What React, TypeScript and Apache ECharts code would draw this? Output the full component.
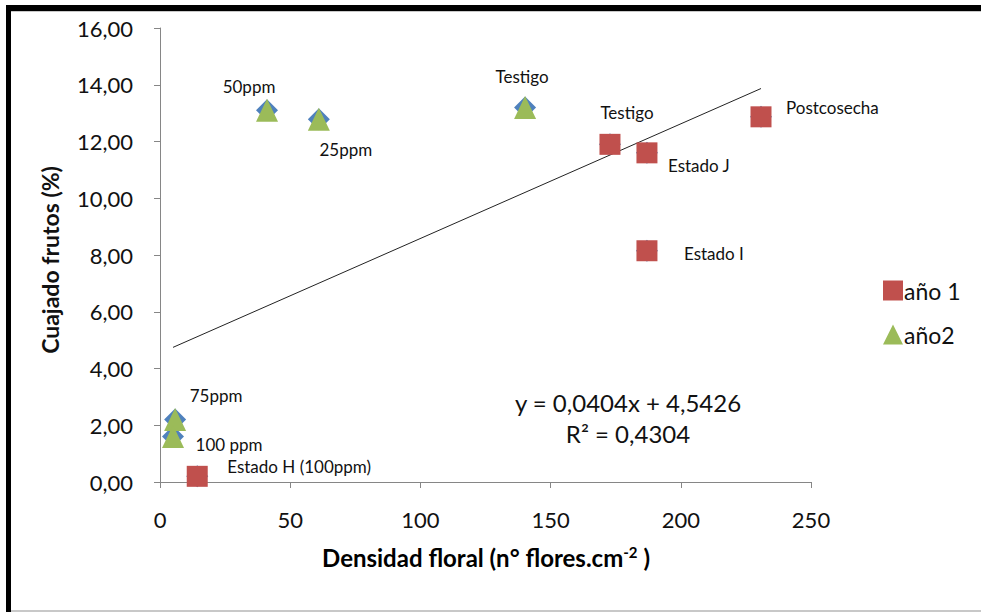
import React, { useEffect, useRef } from "react";
import * as echarts from "echarts";

// ---- data ----
const ano1Names = ["Estado H (100ppm)", "Testigo", "Estado J", "Estado I", "Postcosecha"];
const ano1X = [14.3, 172.8, 187, 187, 230.8];
const ano1Y = [0.2, 11.9, 11.6, 8.15, 12.87];

const ano2Names = ["50ppm", "25ppm", "Testigo", "75ppm", "100 ppm"];
const ano2X = [41.1, 61, 140.2, 5.8, 5];
const ano2Y = [13.1, 12.78, 13.2, 2.2, 1.6];

const seriesNames = ["año 1", "año2"];
const slope = 0.0404;
const intercept = 4.5426;
const eqText = "y = 0,0404x + 4,5426";
const r2Text = "R² = 0,4304";
const yTicks = [0, 2, 4, 6, 8, 10, 12, 14, 16];
const xTicks = [0, 50, 100, 150, 200, 250];

// label placement (style only)
const labelStyle1 = [
  { offset: [30, -10], align: "left" },
  { offset: [17, -32], align: "center" },
  { offset: [21, 13], align: "left" },
  { offset: [37, 3], align: "left" },
  { offset: [25, -9], align: "left" },
];
const labelStyle2 = [
  { offset: [-18, -24], align: "center" },
  { offset: [27, 30], align: "center" },
  { offset: [-3, -31], align: "center" },
  { offset: [41, -24], align: "center" },
  { offset: [56, 8], align: "center" },
];

const FONT = "Lato, 'Open Sans', sans-serif";

export default function App() {
  const ref = useRef<HTMLDivElement>(null);
  useEffect(() => {
    if (!ref.current) return;
    const chart = echarts.init(ref.current, undefined, { renderer: "svg" });
    const allX = [...ano1X, ...ano2X];
    const allY = [...ano1Y, ...ano2Y];
    const xMin = Math.min(...allX);
    const xMax = Math.max(...allX);
    const mkLabel = (name: string, s: any) => ({
      show: true,
      formatter: name,
      position: "inside",
      offset: s.offset,
      align: s.align,
      verticalAlign: "middle",
      fontSize: 17,
      fontFamily: FONT,
      color: "#111",
    });
    const option: any = {
      animation: false,
      backgroundColor: "#fff",
      textStyle: { fontFamily: FONT },
      grid: { left: 160, right: 170, top: 28, bottom: 130, containLabel: false },
      xAxis: {
        type: "value",
        min: xTicks[0],
        max: xTicks[xTicks.length - 1],
        interval: 50,
        axisLine: { show: true, lineStyle: { color: "#868686", width: 1 } },
        axisTick: { show: true, length: 6, lineStyle: { color: "#868686" } },
        splitLine: { show: false },
        axisLabel: { fontSize: 22, color: "#111", margin: 26, fontFamily: FONT },
      },
      yAxis: {
        type: "value",
        min: yTicks[0],
        max: yTicks[yTicks.length - 1],
        interval: 2,
        axisLine: { show: true, lineStyle: { color: "#868686", width: 1 } },
        axisTick: { show: true, length: 6, lineStyle: { color: "#868686" } },
        splitLine: { show: false },
        axisLabel: {
          fontSize: 22,
          color: "#111",
          margin: 27,
          fontFamily: FONT,
          formatter: (v: number) => v.toFixed(2).replace(".", ","),
        },
      },
      legend: {
        orient: "vertical",
        left: 878,
        top: 274,
        itemGap: 21,
        itemWidth: 20,
        itemHeight: 20,
        textStyle: { fontSize: 23, color: "#111", fontFamily: FONT, padding: [0, 0, 0, -4] },
        data: [
          { name: seriesNames[0], icon: "rect" },
          { name: seriesNames[1], icon: "triangle" },
        ],
      },
      series: [
        {
          name: "all",
          type: "scatter",
          symbol: "diamond",
          symbolSize: 22,
          itemStyle: { color: "#4F81BD", opacity: 1 },
          data: allX.map((x, i) => [x, allY[i]]),
          z: 1,
          silent: true,
        },
        {
          name: "trend",
          type: "line",
          symbol: "none",
          lineStyle: { color: "#222", width: 1 },
          data: [
            [xMin, slope * xMin + intercept],
            [xMax, slope * xMax + intercept],
          ],
          z: 2,
          silent: true,
        },
        {
          name: seriesNames[0],
          type: "scatter",
          symbol: "rect",
          symbolSize: 21,
          itemStyle: { color: "#C0504D", opacity: 1 },
          data: ano1X.map((x, i) => ({
            value: [x, ano1Y[i]],
            label: mkLabel(ano1Names[i], labelStyle1[i]),
          })),
          z: 3,
        },
        {
          name: seriesNames[1],
          type: "scatter",
          symbol: "triangle",
          symbolSize: [22, 23],
          itemStyle: { color: "#9BBB59", opacity: 1 },
          data: ano2X.map((x, i) => ({
            value: [x, ano2Y[i]],
            label: mkLabel(ano2Names[i], labelStyle2[i]),
          })),
          z: 4,
        },
      ],
      graphic: [
        { type: "rect", shape: { x: 6, y: 5, width: 975, height: 6 }, style: { fill: "#000" } },
        { type: "rect", shape: { x: 11, y: 11, width: 970, height: 1 }, style: { fill: "#c8c8c8" } },
        { type: "rect", shape: { x: 6, y: 5, width: 5, height: 607 }, style: { fill: "#000" } },
        { type: "rect", shape: { x: 11, y: 610, width: 970, height: 2 }, style: { fill: "#c8c8c8" } },
        {
          type: "text",
          x: 628,
          y: 402,
          style: { text: eqText, fontSize: 24, fontFamily: FONT, fill: "#111", align: "center", verticalAlign: "middle" },
        },
        {
          type: "text",
          x: 628,
          y: 433,
          style: { text: r2Text, fontSize: 24, fontFamily: FONT, fill: "#111", align: "center", verticalAlign: "middle" },
        },
        {
          type: "text",
          x: 486,
          y: 557,
          style: {
            text: "{a|Densidad floral (n° flores.cm}{s|-2}{a| )}",
            rich: {
              a: { fontSize: 24, fontWeight: "bold", fontFamily: FONT, color: "#111" },
              s: { fontSize: 15, fontWeight: "bold", fontFamily: FONT, color: "#111", verticalAlign: "top", padding: [0, 0, 10, 0] },
            },
            align: "center",
            verticalAlign: "middle",
          },
        },
        {
          type: "text",
          x: 50,
          y: 260,
          rotation: Math.PI / 2,
          style: {
            text: "Cuajado frutos (%)",
            fontSize: 23,
            fontWeight: "bold",
            fontFamily: FONT,
            fill: "#111",
            align: "center",
            verticalAlign: "middle",
          },
        },
      ],
    };
    chart.setOption(option);
    return () => chart.dispose();
  }, []);
  return (
    <div
      ref={ref}
      style={{ position: "fixed", left: 0, top: 0, width: 981, height: 612, background: "#fff" }}
    />
  );
}
